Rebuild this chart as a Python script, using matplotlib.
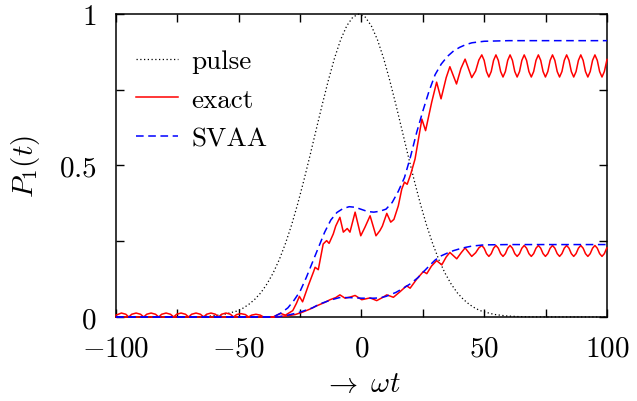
import matplotlib
matplotlib.use("Agg")
import matplotlib.pyplot as plt

plt.rcParams["font.family"] = ["cmr10"]
plt.rcParams["mathtext.fontset"] = "cm"
plt.rcParams["axes.unicode_minus"] = False

# pulse envelope
pulse_x = [-100, -71, -66, -61, -56, -51, -48.5, -46, -43.5, -41, -38.5, -36, -33.5, -31,
           -28.5, -26, -23.5, -21, -18.5, -16, -13.5, -11, -8.5, -6, -3.5, -1, 1.5, 4, 6.5,
           9, 11.5, 14, 16.5, 19, 21.5, 24, 26.5, 29, 31.5, 34, 36.5, 39, 41.5, 44, 46.5,
           49, 54, 59, 64, 69, 100]
pulse_y = [0.0, 0.0004, 0.0013, 0.0034, 0.0085, 0.019, 0.028, 0.041, 0.058, 0.080, 0.109,
           0.145, 0.189, 0.242, 0.303, 0.373, 0.450, 0.532, 0.617, 0.701, 0.781, 0.854,
           0.915, 0.961, 0.990, 1.0, 0.990, 0.961, 0.915, 0.854, 0.781, 0.701, 0.617, 0.532,
           0.450, 0.373, 0.303, 0.242, 0.189, 0.145, 0.109, 0.080, 0.058, 0.041, 0.028,
           0.019, 0.0085, 0.0034, 0.0013, 0.0004, 0.0]

# exact, strong field (upper curve)
exact_hi_x = [-100, -97.8, -96.0, -94.8, -93.6, -91.8, -90.0, -88.7, -87.5, -85.7, -83.9,
              -82.6, -81.4, -79.6, -77.8, -76.5, -75.3, -73.5, -71.7, -70.4, -69.2, -67.4,
              -65.6, -64.3, -63.1, -61.3, -59.5, -58.2, -57.0, -55.2, -53.4, -52.1, -50.9,
              -49.1, -47.3, -46.0, -44.8, -43.0, -41.2, -39.9, -36.0, -33.0, -31.0, -28.0,
              -26.5, -25.3, -24.0, -21.7, -19.5, -18.9, -17.6, -15.6, -14.2, -13.2, -11.5,
              -10.5, -8.8, -7.4, -5.8, -4.7, -2.6, -0.3, 1.4, 3.5, 5.9, 7.5, 8.5, 10.3,
              11.9, 13.2, 15.0, 16.4, 17.5, 18.6, 20.0, 21.8, 23.5, 24.6, 26.1, 28.6, 30.6,
              32.4, 34.5, 36.0, 38.7, 40.5, 42.2, 44.9, 46.5, 47.8,
              49.00, 49.96, 50.92, 51.88, 52.84, 53.80, 54.76, 55.72, 56.68, 57.64, 58.60,
              59.56, 60.52, 61.48, 62.44, 63.40, 64.36, 65.32, 66.28, 67.24, 68.20, 69.16,
              70.12, 71.08, 72.04, 73.00, 73.96, 74.92, 75.88, 76.84, 77.80, 78.76, 79.72,
              80.68, 81.64, 82.60, 83.56, 84.52, 85.48, 86.44, 87.40, 88.36, 89.32, 90.28,
              91.24, 92.20, 93.16, 94.12, 95.08, 96.04, 97.00, 97.96, 98.92, 99.88, 100.0]
exact_hi_y = [0.006, 0.013, 0.009, 0.0, 0.009, 0.013, 0.009, 0.0, 0.009, 0.013, 0.009,
              0.0, 0.009, 0.013, 0.009, 0.0, 0.009, 0.013, 0.009, 0.0, 0.009, 0.013,
              0.009, 0.0, 0.009, 0.013, 0.009, 0.0, 0.009, 0.013, 0.009, 0.0, 0.008,
              0.011, 0.008, 0.0, 0.006, 0.009, 0.006, 0.0, 0.0, 0.012, 0.006, 0.021,
              0.045, 0.068, 0.050, 0.103, 0.150, 0.164, 0.156, 0.241, 0.252, 0.243, 0.274,
              0.300, 0.329, 0.280, 0.292, 0.280, 0.346, 0.268, 0.296, 0.334, 0.268, 0.285,
              0.300, 0.342, 0.313, 0.322, 0.367, 0.422, 0.445, 0.438, 0.470, 0.521, 0.600,
              0.653, 0.615, 0.709, 0.775, 0.720, 0.790, 0.826, 0.769, 0.820, 0.851, 0.790,
              0.812, 0.848,
              0.865, 0.847, 0.810, 0.792, 0.810, 0.847, 0.865, 0.847, 0.810, 0.792, 0.810,
              0.847, 0.865, 0.847, 0.810, 0.792, 0.810, 0.847, 0.865, 0.847, 0.810, 0.792,
              0.810, 0.847, 0.865, 0.847, 0.810, 0.792, 0.810, 0.847, 0.865, 0.847, 0.810,
              0.792, 0.810, 0.847, 0.865, 0.847, 0.810, 0.792, 0.810, 0.847, 0.865, 0.847,
              0.810, 0.792, 0.810, 0.847, 0.865, 0.847, 0.810, 0.792, 0.810, 0.847, 0.850]

# SVAA, strong field (upper curve)
svaa_hi_x = [-100, -36, -33, -30, -27.5, -25, -22.5, -20, -17.5, -15, -12.5, -10, -7.5, -5,
             -2.5, 0, 2.5, 5, 7.5, 10, 12.5, 15, 17.5, 20, 22.5, 25, 27.5, 30, 32.5, 35,
             37.5, 40, 42.5, 45, 50, 60, 100]
svaa_hi_y = [0.0, 0.0, 0.012, 0.030, 0.055, 0.085, 0.130, 0.180, 0.230, 0.280, 0.320, 0.345,
             0.358, 0.364, 0.362, 0.355, 0.348, 0.346, 0.349, 0.356, 0.378, 0.415, 0.460,
             0.530, 0.610, 0.680, 0.745, 0.800, 0.835, 0.860, 0.878, 0.890, 0.899, 0.905,
             0.910, 0.912, 0.912]

# exact, weak field (lower curve)
exact_lo_x = [-100, -35, -30, -27, -24, -21, -18.2, -15, -12.8, -10.5, -8.8, -6.7, -4.5, -2.6,
              0.1, 3.5, 6.2, 8.5, 10.3, 13.0, 15.5, 18.4, 19.8, 22.5, 25.2, 26.6, 28.5, 30.6,
              32.7, 34.5, 36.0, 38.8, 40.6, 42.2, 44.9, 46.5, 47.8,
              49.00, 49.96, 50.92, 51.88, 52.84, 53.80, 54.76, 55.72, 56.68, 57.64, 58.60,
              59.56, 60.52, 61.48, 62.44, 63.40, 64.36, 65.32, 66.28, 67.24, 68.20, 69.16,
              70.12, 71.08, 72.04, 73.00, 73.96, 74.92, 75.88, 76.84, 77.80, 78.76, 79.72,
              80.68, 81.64, 82.60, 83.56, 84.52, 85.48, 86.44, 87.40, 88.36, 89.32, 90.28,
              91.24, 92.20, 93.16, 94.12, 95.08, 96.04, 97.00, 97.96, 98.92, 99.88, 100.0]
exact_lo_y = [0.0, 0.0, 0.004, 0.008, 0.016, 0.026, 0.037, 0.048, 0.057, 0.064, 0.073, 0.062,
              0.066, 0.071, 0.057, 0.063, 0.054, 0.064, 0.073, 0.065, 0.082, 0.103, 0.095,
              0.125, 0.150, 0.143, 0.168, 0.186, 0.172, 0.198, 0.213, 0.192, 0.212, 0.228,
              0.200, 0.212, 0.228,
              0.236, 0.227, 0.209, 0.200, 0.209, 0.227, 0.236, 0.227, 0.209, 0.200, 0.209,
              0.227, 0.236, 0.227, 0.209, 0.200, 0.209, 0.227, 0.236, 0.227, 0.209, 0.200,
              0.209, 0.227, 0.236, 0.227, 0.209, 0.200, 0.209, 0.227, 0.236, 0.227, 0.209,
              0.200, 0.209, 0.227, 0.236, 0.227, 0.209, 0.200, 0.209, 0.227, 0.236, 0.227,
              0.209, 0.200, 0.209, 0.227, 0.236, 0.227, 0.209, 0.200, 0.209, 0.227, 0.228]

# SVAA, weak field (lower curve)
svaa_lo_x = [-100, -34, -30, -25, -20, -17, -12.5, -9, -5, 0, 5, 7.5, 10, 14, 17, 20, 23, 25,
             27.5, 30, 32.5, 35, 37.5, 40, 42.5, 45, 50, 60, 100]
svaa_lo_y = [0.0, 0.0, 0.006, 0.016, 0.030, 0.043, 0.056, 0.064, 0.064, 0.062, 0.062, 0.063,
             0.068, 0.081, 0.095, 0.110, 0.130, 0.147, 0.168, 0.188, 0.202, 0.211, 0.219,
             0.225, 0.230, 0.234, 0.238, 0.239, 0.239]

x_ticks = [-100, -75, -50, -25, 0, 25, 50, 75, 100]
x_ticklabels = ["$-100$", "", "$-50$", "", "$0$", "", "$50$", "", "$100$"]
y_ticks = [0, 0.25, 0.5, 0.75, 1]
y_ticklabels = ["$0$", "", "$0.5$", "", "$1$"]

fig = plt.figure(figsize=(6.37, 4.02), dpi=100)
ax = fig.add_axes([0.1821, 0.209, 0.7708, 0.7537])

ax.plot(pulse_x, pulse_y, color="black", lw=0.9, linestyle=(0, (1, 2)),
        label="pulse", clip_on=False, zorder=3)
ax.plot(exact_hi_x, exact_hi_y, color="red", lw=1.1, label="exact", clip_on=False, zorder=3)
ax.plot(exact_lo_x, exact_lo_y, color="red", lw=1.1, clip_on=False, zorder=3)
ax.plot(svaa_hi_x, svaa_hi_y, color="blue", lw=1.1, dashes=(5, 3), label="SVAA",
        clip_on=False, zorder=4)
ax.plot(svaa_lo_x, svaa_lo_y, color="blue", lw=1.1, dashes=(5, 3), clip_on=False, zorder=4)

ax.set_xlim(-100, 100)
ax.set_ylim(0, 1)
ax.set_xticks(x_ticks)
ax.set_xticklabels(x_ticklabels)
ax.set_yticks(y_ticks)
ax.set_yticklabels(y_ticklabels)
ax.tick_params(direction="in", top=True, right=True, length=5.5, width=1.0,
               labelsize=21)
ax.tick_params(axis="x", pad=13)
ax.tick_params(axis="y", pad=14)
for sp in ax.spines.values():
    sp.set_linewidth(1.1)

ax.set_xlabel(r"$\rightarrow\ \omega t$", fontsize=21, labelpad=7)
ax.set_ylabel(r"$P_1(t)$", fontsize=21, labelpad=12)

ax.legend(loc="upper left", bbox_to_anchor=(0.04, 0.884), frameon=False, fontsize=19.5,
          handlelength=1.55, handletextpad=0.5, labelspacing=0.54, borderpad=0,
          borderaxespad=0)

fig.savefig("out.png", dpi=100)
